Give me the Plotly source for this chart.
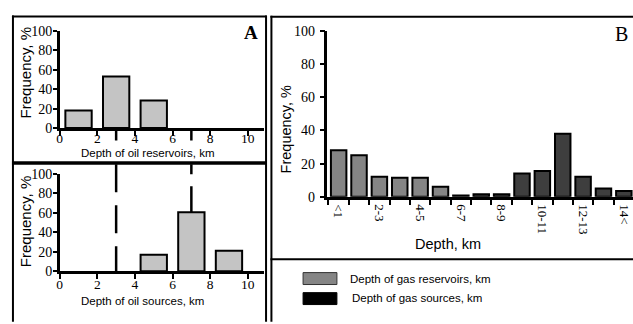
import plotly.graph_objects as go

W, H = 633, 324

# ---------------- data ----------------
# Panel A (top): oil reservoirs
oil_reservoir_depth_km = [1, 3, 5]
oil_reservoir_freq = [18, 53, 28.5]
# Panel A (bottom): oil sources
oil_source_depth_km = [5, 7, 9]
oil_source_freq = [17, 60.5, 21]
oil_window_km = [3, 7]
a_xticks = [0, 2, 4, 6, 8, 10]
freq_ticks = [0, 20, 40, 60, 80, 100]

# Panel B: gas
depth_bins = ['<1', '1-2', '2-3', '3-4', '4-5', '5-6', '6-7', '7-8', '8-9',
              '9-10', '10-11', '11-12', '12-13', '13-14', '14<']
gas_reservoir_freq = [28, 25, 12, 11.5, 11.5, 6, 0.7,
                      None, None, None, None, None, None, None, None]
gas_source_freq = [None, None, None, None, None, None, None,
                   1.5, 1.5, 14, 15.5, 38, 12, 5, 3.5]
gas_series_names = ['Depth of gas reservoirs, km', 'Depth of gas sources, km']

# ---------------- helpers ----------------
def px(x):
    return x / W


def py(y):
    return 1 - y / H


A_TOP_Y = [py(127), py(25)]
A_BOT_Y = [py(277), py(175)]
A_X = [px(57), px(262)]
B_X = [px(326), 1.0]
B_Y = [py(199), py(25)]

TICK_FONT = dict(family='Liberation Serif', size=14, color='black')
A_XTICK_FONT = dict(family='Liberation Serif', size=13.5, color='black')
SANS = 'Liberation Sans'

fig = go.Figure()

fig.add_trace(go.Bar(x=oil_reservoir_depth_km, y=oil_reservoir_freq, width=1.4,
                     marker=dict(color='#c4c4c4', line=dict(color='black', width=2)),
                     xaxis='x', yaxis='y', showlegend=False))
fig.add_trace(go.Bar(x=oil_source_depth_km, y=oil_source_freq, width=1.4,
                     marker=dict(color='#c4c4c4', line=dict(color='black', width=2)),
                     xaxis='x2', yaxis='y2', showlegend=False))
fig.add_trace(go.Bar(x=depth_bins, y=gas_reservoir_freq, width=0.76, name=gas_series_names[0],
                     marker=dict(color='#858585', line=dict(color='black', width=2)),
                     xaxis='x3', yaxis='y3', showlegend=False))
fig.add_trace(go.Bar(x=depth_bins, y=gas_source_freq, width=0.76, name=gas_series_names[1],
                     marker=dict(color='#3e3e3e', line=dict(color='black', width=2)),
                     xaxis='x3', yaxis='y3', showlegend=False))

common_ax = dict(showline=True, linecolor='black', linewidth=2.5, showgrid=False,
                 zeroline=False, ticks='outside', tickcolor='black', tickwidth=2,
                 tickfont=TICK_FONT)

fig.update_layout(
    width=W, height=H, margin=dict(l=0, r=0, t=0, b=0),
    paper_bgcolor='white', plot_bgcolor='rgba(0,0,0,0)',
    barmode='overlay', showlegend=False,
    xaxis=dict(common_ax, domain=A_X, range=[0, 10.85], tickvals=a_xticks, ticklen=5,
               ticklabelstandoff=-9, tickfont=A_XTICK_FONT, anchor='y'),
    yaxis=dict(common_ax, domain=A_TOP_Y, range=[0, 100], tickvals=freq_ticks, ticklen=4,
               ticklabelstandoff=-2, anchor='x'),
    xaxis2=dict(common_ax, domain=A_X, range=[0, 10.85], tickvals=a_xticks, ticklen=5,
                ticklabelstandoff=-6, tickfont=A_XTICK_FONT, anchor='y2'),
    yaxis2=dict(common_ax, domain=A_BOT_Y, range=[0, 100], tickvals=freq_ticks, ticklen=4,
                ticklabelstandoff=-2, anchor='x2'),
    xaxis3=dict(common_ax, domain=B_X, type='category', range=[-0.55, 14.45],
                categoryorder='array', categoryarray=depth_bins,
                tickvals=depth_bins,
                ticktext=[b if i % 2 == 0 else '' for i, b in enumerate(depth_bins)],
                tickson='boundaries', ticklen=5, tickangle=90, ticklabelstandoff=2,
                tickfont=dict(family='Liberation Serif', size=13, color='black'),
                anchor='y3'),
    yaxis3=dict(common_ax, domain=B_Y, range=[0, 100], tickvals=freq_ticks, ticklen=5,
                ticklabelstandoff=2, anchor='x3'),
)

shapes = []
# frames
frame = dict(type='line', xref='paper', yref='paper', line=dict(color='black', width=2))
shapes.append(dict(frame, x0=px(9), x1=px(265), y0=py(10), y1=py(10)))
shapes.append(dict(frame, x0=px(10), x1=px(10), y0=py(9), y1=py(330)))
shapes.append(dict(frame, x0=px(264.3), x1=px(264.3), y0=py(9), y1=py(330)))
shapes.append(dict(frame, x0=px(9), x1=px(265), y0=py(163.5), y1=py(163.5),
                   line=dict(color='black', width=3.5)))
shapes.append(dict(frame, x0=px(269.7), x1=px(269.7), y0=py(9.3), y1=py(330)))
shapes.append(dict(frame, x0=px(268.7), x1=px(640), y0=py(10.3), y1=py(10.3)))
shapes.append(dict(frame, x0=px(268.7), x1=px(640), y0=py(264.5), y1=py(264.5)))

# oil window markers
def y2_to_paper(v):
    return A_BOT_Y[0] + v / 100 * (A_BOT_Y[1] - A_BOT_Y[0])

for km in oil_window_km:
    shapes.append(dict(type='line', xref='x', yref='paper', x0=km, x1=km,
                       y0=py(127), y1=py(140), line=dict(color='black', width=2.5)))
# left marker: dashed from top down to axis
shapes.append(dict(type='line', xref='x2', yref='paper', x0=oil_window_km[0], x1=oil_window_km[0],
                   y0=py(165), y1=A_BOT_Y[0],
                   line=dict(color='black', width=2.5, dash='28px,13px')))
# right marker: dashed from bar top upward
top_val = oil_source_freq[oil_source_depth_km.index(oil_window_km[1])]
shapes.append(dict(type='line', xref='x2', yref='paper', x0=oil_window_km[1], x1=oil_window_km[1],
                   y0=y2_to_paper(top_val), y1=py(165),
                   line=dict(color='black', width=2.5, dash='26px,12px')))

# legend swatches
shapes.append(dict(type='rect', xref='paper', yref='paper', x0=px(301.5), x1=px(335.5),
                   y0=py(291), y1=py(278.5), fillcolor='#858585',
                   line=dict(color='#333333', width=1)))
shapes.append(dict(type='rect', xref='paper', yref='paper', x0=px(301.5), x1=px(335.5),
                   y0=py(312), y1=py(299.5), fillcolor='black',
                   line=dict(color='black', width=1)))
fig.update_layout(shapes=shapes)

ann = []
def text(x, y, s, size, family=SANS, angle=0, xanchor='center', bold=False):
    ann.append(dict(x=px(x), y=py(y), xref='paper', yref='paper', text=('<b>%s</b>' % s) if bold else s,
                    showarrow=False, textangle=angle, xanchor=xanchor, yanchor='middle',
                    borderpad=0,
                    font=dict(family=family, size=size, color='black')))

text(22.7, 69, 'Frequency, %', 15, angle=-90)
text(22.7, 225, 'Frequency, %', 15, angle=-90)
text(284.7, 128, 'Frequency, %', 14.5, angle=-90)
text(145.5, 153, 'Depth of oil reservoirs, km', 11.5)
text(140.5, 308, 'Depth of oil sources, km', 11.5)
text(447, 248, 'Depth, km', 14.5)
text(249, 27, 'A', 19, family='Liberation Serif', bold=True)
text(621.5, 28.5, 'B', 20, family='Liberation Serif')
text(348, 285, gas_series_names[0], 11.5, xanchor='left')
text(350, 305.5, gas_series_names[1], 11.5, xanchor='left')
fig.update_layout(annotations=ann)

fig.write_html('out.html')
